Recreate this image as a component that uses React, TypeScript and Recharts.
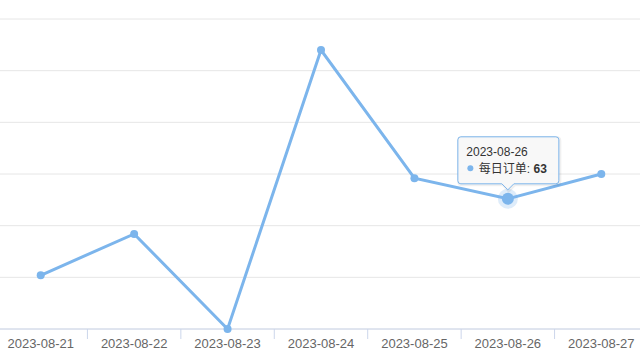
import React from 'react';
import { LineChart, Line, XAxis, YAxis, CartesianGrid } from 'recharts';

const dates = ['2023-08-21', '2023-08-22', '2023-08-23', '2023-08-24', '2023-08-25', '2023-08-26', '2023-08-27'];
const orders = [26, 46, 0, 135, 73, 63, 75];
const yTicks = [0, 25, 50, 75, 100, 125, 150];
const seriesName = '每日订单';
const hoveredIndex = 5;

const data = dates.map((d, i) => ({ date: d, orders: orders[i] }));

const FONT = '"Liberation Sans", Arial, "Noto Sans CJK SC", sans-serif';
const COLOR = '#7cb5ec';

function AxisTick(props: any) {
  const { x, y, payload, index, width } = props;
  const half = payload && typeof payload.offset === 'number' && payload.offset > 0 ? payload.offset : width / dates.length / 2;
  return (
    <g>
      <line x1={x - half} x2={x - half} y1={y} y2={y + 10} stroke="#ccd6eb" strokeWidth={1} />
      {index === dates.length - 1 && (
        <line x1={x + half} x2={x + half} y1={y} y2={y + 10} stroke="#ccd6eb" strokeWidth={1} />
      )}
      <text x={x} y={y + 18.5} textAnchor="middle" fontSize={13} fill="#666666" fontFamily={FONT}>
        {payload.value}
      </text>
    </g>
  );
}

function Dot(props: any) {
  const { cx, cy, index, payload } = props;
  if (cx == null || cy == null) return <g key={`d${index}`} />;
  if (index !== hoveredIndex) {
    return <circle key={`d${index}`} cx={cx} cy={cy} r={4} fill={COLOR} />;
  }
  const x0 = cx - 50;
  const x1 = cx + 51;
  const y0 = cy - 62;
  const y1 = cy - 15;
  const r = 3;
  const tipY = cy - 9;
  const path = `M${x0 + r},${y0} L${x1 - r},${y0} Q${x1},${y0} ${x1},${y0 + r} L${x1},${y1 - r} Q${x1},${y1} ${x1 - r},${y1} L${cx + 6},${y1} L${cx},${tipY} L${cx - 6},${y1} L${x0 + r},${y1} Q${x0},${y1} ${x0},${y1 - r} L${x0},${y0 + r} Q${x0},${y0} ${x0 + r},${y0} Z`;
  return (
    <g key={`d${index}`}>
      <circle cx={cx} cy={cy} r={10} fill={COLOR} fillOpacity={0.25} />
      <circle cx={cx} cy={cy} r={6} fill={COLOR} />
      <path d={path} fill="none" stroke="rgba(0,0,0,0.06)" strokeWidth={3} transform="translate(1,1)" />
      <path d={path} fill="rgba(247,247,247,0.9)" stroke={COLOR} strokeWidth={1} />
      <text x={x0 + 8.5} y={y0 + 19.5} fontSize={12} fill="#333333" fontFamily={FONT}>
        {payload.date}
      </text>
      <circle cx={x0 + 12.5} cy={y0 + 31.5} r={3} fill={COLOR} />
      <text x={x0 + 21} y={y0 + 36} fontSize={12} fill="#333333" fontFamily={FONT}>
        {seriesName}: <tspan fontWeight="bold">{payload.orders}</tspan>
      </text>
    </g>
  );
}

export default function App() {
  return (
    <div style={{ position: 'absolute', left: -6, top: 0, width: 654, height: 360 }}>
      <LineChart width={654} height={360} data={data} margin={{ top: 19, right: 0, bottom: 1, left: 0 }}>
        <CartesianGrid vertical={false} stroke="#e6e6e6" />
        <XAxis
          dataKey="date"
          scale="band"
          height={30}
          axisLine={{ stroke: '#ccd6eb' }}
          tickLine={false}
          tickSize={0}
          tickMargin={0}
          interval={0}
          tick={<AxisTick />}
        />
        <YAxis hide domain={[0, 150]} ticks={yTicks} />
        <Line
          type="linear"
          dataKey="orders"
          name={seriesName}
          stroke={COLOR}
          strokeWidth={3}
          dot={<Dot />}
          activeDot={false}
          isAnimationActive={false}
        />
      </LineChart>
    </div>
  );
}
